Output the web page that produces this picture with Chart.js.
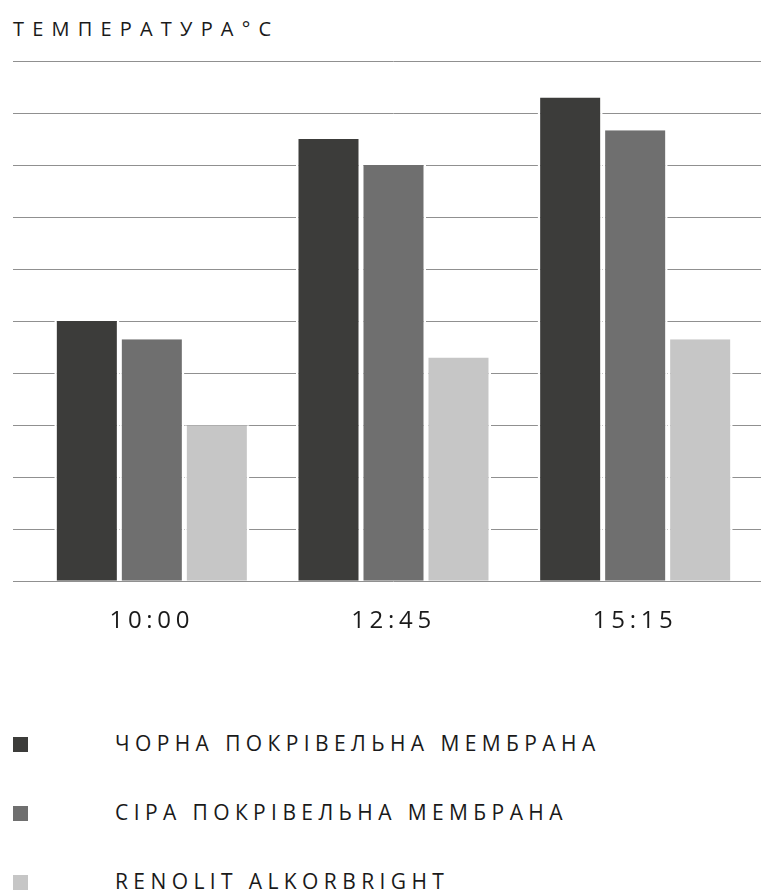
<!DOCTYPE html>
<html>
<head>
<meta charset="utf-8">
<script src="https://cdn.jsdelivr.net/npm/chart.js@4/dist/chart.umd.min.js"></script>
<style>
  html, body { margin: 0; padding: 0; background: #fff; }
  body { width: 761px; height: 892px; position: relative; overflow: hidden;
         font-family: "Open Sans", "Noto Sans", "DejaVu Sans", sans-serif; color: #1a1a1a; }
  #title { position: absolute; left: 13px; top: 19px; font-size: 20px; line-height: 20px;
           letter-spacing: 8.2px; white-space: nowrap; }
  #wrap { position: absolute; left: 0; top: 0; width: 761px; height: 654px; }
  #legend { position: absolute; left: 0; top: 0; width: 761px; }
  .row { position: absolute; left: 0; height: 21px; width: 761px; }
  .sw { position: absolute; left: 13px; width: 15px; height: 15px; }
  .lbl { position: absolute; left: 115px; top: 0; font-size: 21px; line-height: 21px;
         letter-spacing: 5.4px; white-space: nowrap; }
</style>
</head>
<body>
<div id="title">ТЕМПЕРАТУРА°C</div>
<div id="wrap"><canvas id="tempChart"></canvas></div>
<div id="legend"></div>

<script>
/* ---------- DATA ---------- */

const times = ["10:00", "12:45", "15:15"];
const seriesNames = [
  "ЧОРНА ПОКРІВЕЛЬНА МЕМБРАНА",
  "СІРА ПОКРІВЕЛЬНА МЕМБРАНА",
  "RENOLIT ALKORBRIGHT"
];
const blackMembrane = [50, 85, 93];
const greyMembrane = [46.5, 80, 86.7];
const alkorbright = [30, 43, 46.5];

const colors = ["#3c3c3a", "#6f6f6f", "#c6c6c6"];
const gridColor = "#909090";

/* ---------- CHART ---------- */

function makeDataset(i, data) {
  return {
    label: seriesNames[i],
    data,
    backgroundColor: colors[i],
    borderColor: "#ffffff",
    borderWidth: { left: 2.5, right: 2.5, top: 0, bottom: 0 },
    borderSkipped: false,
    categoryPercentage: 195 / 241.67,
    barPercentage: 1
  };
}

// canvas letter spacing for the time labels
const spacingPlugin = {
  id: "spacing",
  beforeDraw(chart) {
    chart.ctx.letterSpacing = "4.7px";
  }
};

const ctx = document.getElementById("tempChart").getContext("2d");

new Chart(ctx, {
  type: "bar",
  data: {
    labels: times,
    datasets: [
      makeDataset(0, blackMembrane),
      makeDataset(1, greyMembrane),
      makeDataset(2, alkorbright)
    ]
  },
  options: {
    responsive: true,
    maintainAspectRatio: false,
    animation: false,
    layout: { padding: { top: 61, left: 13, right: 0, bottom: 0 } },
    plugins: {
      legend: { display: false },
      tooltip: { enabled: false }
    },
    scales: {
      x: {
        grid: { display: false },
        border: { display: false },
        ticks: {
          color: "#1a1a1a",
          padding: 18,
          font: { family: "'Open Sans', 'Noto Sans', sans-serif", size: 24, lineHeight: 1.2 }
        }
      },
      y: {
        min: 0,
        max: 100,
        position: "left",
        border: { display: false },
        ticks: { display: false, stepSize: 10 },
        grid: { color: gridColor, lineWidth: 1, drawTicks: true, tickLength: 18 }
      },
      y2: {
        min: 0,
        max: 100,
        position: "right",
        border: { display: false },
        ticks: { display: false, stepSize: 10 },
        grid: { color: gridColor, lineWidth: 1, drawOnChartArea: false, drawTicks: true, tickLength: 5 }
      }
    }
  },
  plugins: [spacingPlugin]
});

/* ---------- LEGEND ---------- */

const legendTops = [733, 802, 871];
const legend = document.getElementById("legend");
seriesNames.forEach((name, i) => {
  const row = document.createElement("div");
  row.className = "row";
  row.style.top = legendTops[i] + "px";
  const sw = document.createElement("div");
  sw.className = "sw";
  sw.style.top = "4px";
  sw.style.background = colors[i];
  const lbl = document.createElement("div");
  lbl.className = "lbl";
  lbl.textContent = name;
  row.appendChild(sw);
  row.appendChild(lbl);
  legend.appendChild(row);
});
</script>
</body>
</html>
